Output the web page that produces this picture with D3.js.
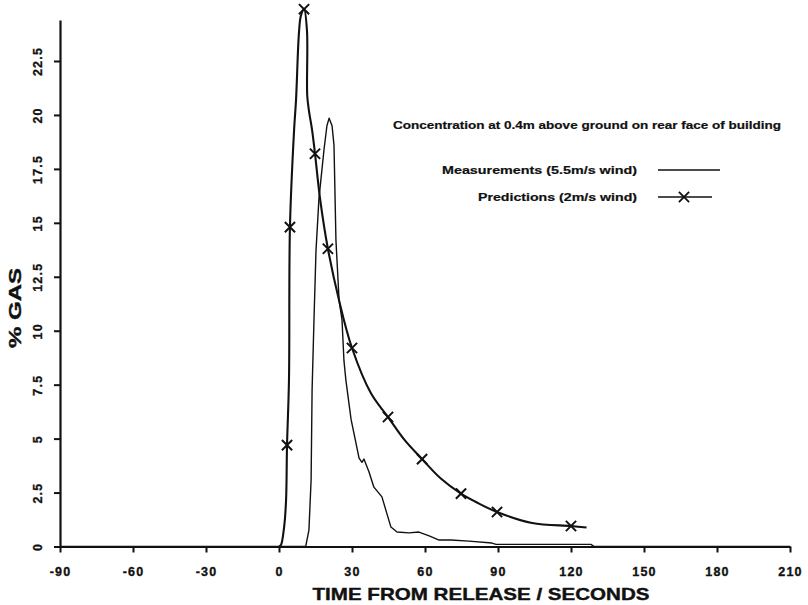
<!DOCTYPE html>
<html><head><meta charset="utf-8">
<script src="https://cdn.jsdelivr.net/npm/d3@7"></script>
<style>
html,body{margin:0;padding:0;background:#fff;}
svg{display:block;font-family:"Liberation Sans",Arial,Helvetica,sans-serif;}
</style></head>
<body>
<svg id="c" width="808" height="605"></svg>
<script>
// ---- data ----
const xTicks = [-90, -60, -30, 0, 30, 60, 90, 120, 150, 180, 210];
const yTicks = [0, 2.5, 5, 7.5, 10, 12.5, 15, 17.5, 20, 22.5];
const yTickLabels = ["0", "2.5", "5", "7.5", "10", "12.5", "15", "17.5", "20", "22.5"];

// Measurements (5.5 m/s wind): time (s), % gas
const measTime = [-90, 11, 11.1, 12.3, 13.2, 13.6, 14.4, 15.2, 16.4, 18.5, 19.7, 20.6, 21.8, 22.6, 23.4, 24.7, 25.9, 26.7, 27.5, 29.6, 32.9, 34.1, 34.9, 37.0, 39.0, 42.3, 44.4, 46.0, 48.5, 53.4, 57.5, 61.7, 65.8, 70.7, 78.1, 87.5, 89.2, 128.2, 129.5, 210];
const measValue = [0, 0, 0.07, 0.76, 3.1, 7.25, 10.6, 13.7, 16.1, 18.4, 19.5, 19.85, 19.5, 18.6, 14.2, 11.4, 10.5, 8.6, 7.7, 5.9, 4.1, 3.9, 4.05, 3.45, 2.75, 2.3, 1.5, 0.9, 0.67, 0.63, 0.67, 0.49, 0.3, 0.3, 0.25, 0.16, 0.1, 0.1, 0, 0];

// Predictions (2 m/s wind): curve trace
const predTime = [0, 0.8, 2.1, 2.9, 3.3, 4.1, 4.5, 6.2, 7.0, 8.2, 9.0, 10.3, 11.5, 11.6, 12.3, 13.6, 14.8, 16.9, 20.1, 24.7, 30.0, 37.8, 44.8, 51.5, 58.8, 66.5, 74.8, 82.0, 89.6, 104.0, 120.0, 126.4];
const predValue = [0, 0.07, 0.9, 2.15, 4.7, 7.7, 14.8, 19.3, 20.7, 23.8, 24.6, 24.9, 23.9, 20.9, 20.2, 19.3, 18.2, 16.1, 13.8, 11.4, 9.2, 7.1, 6.0, 4.95, 4.05, 3.15, 2.45, 2.0, 1.6, 1.09, 0.95, 0.88];
// Predictions: computed points (× markers)
const markTime = [3.3, 4.5, 10.3, 14.8, 20.1, 30.0, 44.8, 58.8, 74.8, 89.6, 120.0];
const markValue = [4.7, 14.8, 24.9, 18.2, 13.8, 9.2, 6.0, 4.05, 2.45, 1.6, 0.95];

const titleText = "Concentration at 0.4m above ground on rear face of building";
const legendLabels = ["Measurements (5.5m/s wind)", "Predictions (2m/s wind)"];
const xTitle = "TIME FROM RELEASE / SECONDS";
const yTitle = "% GAS";

// ---- chart ----
const ink = "#111";
const svg = d3.select("#c");
const x = d3.scaleLinear().domain([-90, 210]).range([60, 790]);
const y = d3.scaleLinear().domain([0, 24.4]).range([546.5, 20]);

// axes
const xAxis = svg.append("g").attr("transform", "translate(0,546.5)")
  .call(d3.axisBottom(x).tickValues(xTicks).tickSize(6).tickSizeOuter(0).tickPadding(10).tickFormat(d => d < 0 ? "-" + Math.abs(d) : String(d)));
const yAxis = svg.append("g").attr("transform", "translate(60,0)")
  .call(d3.axisLeft(y).tickValues(yTicks).tickSize(6).tickSizeOuter(0).tickFormat((d, i) => yTickLabels[i]));

[xAxis, yAxis].forEach(g => {
  g.select(".domain").attr("stroke", ink).attr("stroke-width", 2.2);
  g.selectAll(".tick line").attr("stroke", ink).attr("stroke-width", 2);
  g.selectAll(".tick text").attr("fill", ink).attr("font-size", 12.5).attr("font-weight", "bold")
    .attr("stroke", ink).attr("stroke-width", 0.35)
    .attr("font-family", "'Liberation Sans', Arial, sans-serif").style("letter-spacing", "1.2px");
});
xAxis.selectAll(".tick text").attr("dy", "0.71em").attr("y", 21);
yAxis.selectAll(".tick text")
  .attr("transform", "rotate(-90)")
  .attr("x", 0).attr("y", -22).attr("dy", "0.35em")
  .attr("text-anchor", "middle");

// axis titles
svg.append("text").attr("x", 481).attr("y", 600)
  .attr("text-anchor", "middle").attr("font-size", 17).attr("font-weight", "bold")
  .attr("stroke", ink).attr("stroke-width", 0.4)
  .attr("fill", ink).attr("textLength", 337).attr("lengthAdjust", "spacingAndGlyphs").text(xTitle);
svg.append("text").attr("transform", "translate(21,308) rotate(-90)")
  .attr("text-anchor", "middle").attr("font-size", 17).attr("font-weight", "bold")
  .attr("stroke", ink).attr("stroke-width", 0.4)
  .attr("fill", ink).attr("textLength", 80).attr("lengthAdjust", "spacingAndGlyphs").text(yTitle);

// lines
const meas = measTime.map((t, i) => [t, measValue[i]]);
const pred = predTime.map((t, i) => [t, predValue[i]]);
const marks = markTime.map((t, i) => [t, markValue[i]]);

svg.append("path").datum(meas)
  .attr("d", d3.line().x(d => x(d[0])).y(d => y(d[1])).curve(d3.curveLinear))
  .attr("fill", "none").attr("stroke", ink).attr("stroke-width", 1.4).attr("stroke-linejoin", "round");
svg.append("path").datum(pred)
  .attr("d", d3.line().x(d => x(d[0])).y(d => y(d[1])).curve(d3.curveCatmullRom.alpha(0.5)))
  .attr("fill", "none").attr("stroke", ink).attr("stroke-width", 2.1).attr("stroke-linejoin", "round");

const sym = d3.symbol().type(d3.symbolX).size(70);
svg.append("g").selectAll("path").data(marks).join("path")
  .attr("transform", d => `translate(${x(d[0])},${y(d[1])})`)
  .attr("d", sym).attr("fill", "none").attr("stroke", ink).attr("stroke-width", 2);

// title and legend
svg.append("text").attr("x", 393).attr("y", 129).attr("font-size", 11).attr("font-weight", "bold")
  .attr("stroke", ink).attr("stroke-width", 0.2)
  .attr("fill", ink).attr("textLength", 388).attr("lengthAdjust", "spacingAndGlyphs").text(titleText);

svg.append("text").attr("x", 637).attr("y", 174).attr("text-anchor", "end").attr("font-size", 11).attr("font-weight", "bold")
  .attr("stroke", ink).attr("stroke-width", 0.2)
  .attr("fill", ink).attr("textLength", 195).attr("lengthAdjust", "spacingAndGlyphs").text(legendLabels[0]);
svg.append("line").attr("x1", 658).attr("x2", 720).attr("y1", 170).attr("y2", 170)
  .attr("stroke", ink).attr("stroke-width", 1.4);

svg.append("text").attr("x", 637).attr("y", 201).attr("text-anchor", "end").attr("font-size", 11).attr("font-weight", "bold")
  .attr("stroke", ink).attr("stroke-width", 0.2)
  .attr("fill", ink).attr("textLength", 159).attr("lengthAdjust", "spacingAndGlyphs").text(legendLabels[1]);
svg.append("line").attr("x1", 658).attr("x2", 712).attr("y1", 197).attr("y2", 197)
  .attr("stroke", ink).attr("stroke-width", 1.6);
svg.append("path").attr("transform", "translate(684,197)").attr("d", sym)
  .attr("fill", "none").attr("stroke", ink).attr("stroke-width", 1.8);
</script>
</body></html>
